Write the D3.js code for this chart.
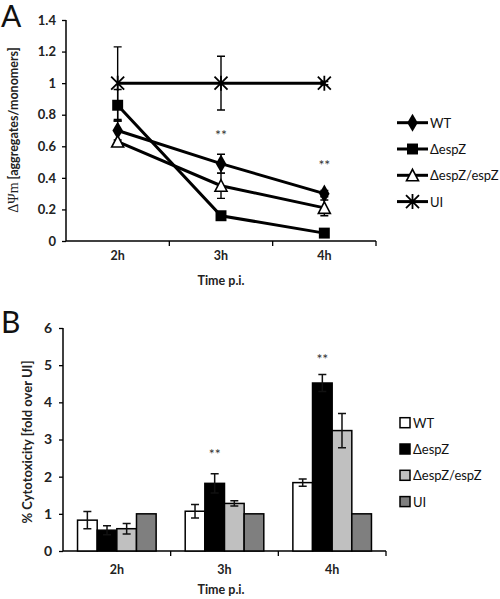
<!DOCTYPE html>
<html><head><meta charset="utf-8">
<script src="https://cdn.jsdelivr.net/npm/d3@7"></script>
<style>body{margin:0;background:#fff}svg{display:block}text{font-family:Lato,"Open Sans",sans-serif}</style>
</head><body>
<script>
// ---- data ----
const times = ["2h", "3h", "4h"];
const seriesNames = ["WT", "\u0394espZ", "\u0394espZ/espZ", "UI"];
// Panel A: ΔΨm
const aWT = [0.70, 0.49, 0.30];
const aWTerr = [0.06, 0.06, 0.02];
const aDel = [0.86, 0.16, 0.05];
const aDelErr = [0.10, 0.01, 0.01];
const aComp = [0.63, 0.35, 0.21];
const aCompErr = [0.0, 0.08, 0.05];
const aUI = [1, 1, 1];
const aUIerr = [0.23, 0.17, 0.01];
const aTicks = [0, 0.2, 0.4, 0.6, 0.8, 1, 1.2, 1.4];
const aStars = [null, 0.68, 0.49];
// Panel B: cytotoxicity
const bWT = [0.83, 1.07, 1.84];
const bWTerr = [0.23, 0.18, 0.10];
const bDel = [0.56, 1.82, 4.52];
const bDelErr = [0.12, 0.26, 0.23];
const bComp = [0.60, 1.28, 3.24];
const bCompErr = [0.14, 0.07, 0.46];
const bUI = [1, 1, 1];
const bUIerr = [0, 0, 0];
const bTicks = [0, 1, 2, 3, 4, 5, 6];
const bStars = [null, 2.64, 5.2];

const svg = d3.select("body").append("svg").attr("width", 500).attr("height", 599);

// ================= Panel A =================
const aSeries = [
  {name: seriesNames[0], v: aWT, e: aWTerr, sym: "diamond"},
  {name: seriesNames[1], v: aDel, e: aDelErr, sym: "square"},
  {name: seriesNames[2], v: aComp, e: aCompErr, sym: "triangle"},
  {name: seriesNames[3], v: aUI, e: aUIerr, sym: "star"}
];
const xA = d3.scaleBand().domain(times).range([66, 376]).padding(0);
const yA = d3.scaleLinear().domain([0, 1.4]).range([241, 20]);
const gA = svg.append("g");

function marker(g, type, x, y) {
  if (type === "diamond") {
    g.append("path").attr("d", d3.symbol(d3.symbolDiamond, 95)()).attr("transform", `translate(${x},${y})`).attr("fill", "#000");
  } else if (type === "square") {
    g.append("path").attr("d", d3.symbol(d3.symbolSquare, 120)()).attr("transform", `translate(${x},${y})`).attr("fill", "#000");
  } else if (type === "triangle") {
    const s = 6;
    g.append("path").attr("d", `M${x},${y - s}L${x + s},${y + s - 0.5}L${x - s},${y + s - 0.5}Z`).attr("fill", "#fff").attr("stroke", "#000").attr("stroke-width", 1.6);
  } else {
    const s = 6.5;
    g.append("path").attr("d", `M${x - s},${y - s}L${x + s},${y + s}M${x - s},${y + s}L${x + s},${y - s}M${x},${y - s - 1}L${x},${y + s + 1}`).attr("stroke", "#000").attr("stroke-width", 1.8).attr("fill", "none");
  }
}

// axes A
const yAxA = d3.axisLeft(yA).tickValues(aTicks).tickSize(4).tickPadding(6).tickFormat(d => String(+d.toFixed(1)));
gA.append("g").attr("transform", "translate(66,0)").call(yAxA)
  .call(g => { g.select(".domain").attr("stroke-width", 1.5).attr("d", "M0,20V241"); g.selectAll("line").attr("stroke-width", 1.3); })
  .selectAll("text").attr("font-size", 13).attr("font-weight", "bold").attr("fill", "#222");
const xAxA = d3.axisBottom(xA).tickSize(0).tickPadding(10);
gA.append("g").attr("transform", "translate(0,241)").call(xAxA)
  .call(g => g.select(".domain").attr("stroke-width", 1.5).attr("d", "M66,0H376"))
  .selectAll("text").attr("font-size", 12.5).attr("font-weight", "bold").attr("fill", "#222");
gA.selectAll(".xtickA").data(times).enter().append("line")
  .attr("x1", d => xA(d) + xA.bandwidth()).attr("x2", d => xA(d) + xA.bandwidth())
  .attr("y1", 241).attr("y2", 246).attr("stroke", "#000").attr("stroke-width", 1.3);

// lines
const lineA = d3.line().x((d, i) => xA(times[i]) + xA.bandwidth() / 2).y(d => yA(d));
aSeries.forEach(s => {
  gA.append("path").attr("d", lineA(s.v)).attr("fill", "none").attr("stroke", "#000").attr("stroke-width", 3);
});
// error bars
aSeries.forEach(s => {
  s.v.forEach((v, i) => {
    const e = s.e[i];
    if (!e) return;
    const cx = xA(times[i]) + xA.bandwidth() / 2;
    gA.append("path").attr("d", `M${cx},${yA(v + e)}V${yA(v - e)}M${cx - 4},${yA(v + e)}H${cx + 4}M${cx - 4},${yA(v - e)}H${cx + 4}`)
      .attr("stroke", "#000").attr("stroke-width", 1.4).attr("fill", "none");
  });
});
aSeries.forEach(s => {
  s.v.forEach((v, i) => marker(gA, s.sym, xA(times[i]) + xA.bandwidth() / 2, yA(v)));
});
aStars.forEach((v, i) => {
  if (v == null) return;
  gA.append("text").attr("x", xA(times[i]) + xA.bandwidth() / 2).attr("y", yA(v) + 6).attr("text-anchor", "middle")
    .attr("font-size", 14).attr("fill", "#333").text("**");
});
// labels A
gA.append("text").attr("transform", "translate(18,130) rotate(-90)").attr("text-anchor", "middle")
  .attr("font-size", 12.5).attr("font-weight", "bold").attr("fill", "#222")
  .call(t => {
    t.append("tspan").attr("font-family", "'Liberation Serif',serif").attr("font-weight", "normal").attr("font-size", 14).text("\u0394\u03A8m");
    t.append("tspan").text(" [aggregates/monomers]");
  });
gA.append("text").attr("x", 221).attr("y", 285).attr("text-anchor", "middle").attr("font-size", 12.5).attr("font-weight", "bold").attr("fill", "#222").text("Time p.i.");
gA.append("text").attr("x", 1).attr("y", 27).attr("font-size", 30).attr("font-family", "'Liberation Sans',Arial,sans-serif").attr("fill", "#111").text("A");
// legend A
const legA = gA.append("g");
aSeries.forEach((s, i) => {
  const y = 122.7 + i * 26.3;
  legA.append("line").attr("x1", 397).attr("x2", 428).attr("y1", y).attr("y2", y).attr("stroke", "#000").attr("stroke-width", 3);
  marker(legA, s.sym, 412.5, y);
  legA.append("text").attr("x", 430).attr("y", y + 5).attr("font-size", 13).attr("fill", "#111").text(s.name);
});

// ================= Panel B =================
const bSeries = [
  {name: seriesNames[0], v: bWT, e: bWTerr, fill: "#ffffff"},
  {name: seriesNames[1], v: bDel, e: bDelErr, fill: "#000000"},
  {name: seriesNames[2], v: bComp, e: bCompErr, fill: "#c0c0c0"},
  {name: seriesNames[3], v: bUI, e: bUIerr, fill: "#7f7f7f"}
];
const xB = d3.scaleBand().domain(times).range([63, 386]).padding(0);
const xBs = d3.scaleBand().domain(seriesNames).range([xB.bandwidth() * 0.135, xB.bandwidth() * 0.865]).padding(0);
const yB = d3.scaleLinear().domain([0, 6]).range([551, 328]);
const gB = svg.append("g");

const yAxB = d3.axisLeft(yB).tickValues(bTicks).tickSize(4).tickPadding(7).tickFormat(d3.format("d"));
gB.append("g").attr("transform", "translate(63,0)").call(yAxB)
  .call(g => { g.select(".domain").attr("stroke-width", 1.5).attr("d", "M0,328V551"); g.selectAll("line").attr("stroke-width", 1.3); })
  .selectAll("text").attr("font-size", 14).attr("font-weight", "bold").attr("fill", "#222");
gB.append("g").attr("transform", "translate(0,551)").call(d3.axisBottom(xB).tickSize(0).tickPadding(14))
  .call(g => g.select(".domain").attr("stroke-width", 1.5).attr("d", "M63,0H386"))
  .selectAll("text").attr("font-size", 12.5).attr("font-weight", "bold").attr("fill", "#222");
gB.selectAll(".xtickB").data(times).enter().append("line")
  .attr("x1", d => xB(d) + xB.bandwidth()).attr("x2", d => xB(d) + xB.bandwidth())
  .attr("y1", 551).attr("y2", 556).attr("stroke", "#000").attr("stroke-width", 1.3);

bSeries.forEach(s => {
  s.v.forEach((v, i) => {
    const x0 = xB(times[i]) + xBs(s.name);
    gB.append("rect").attr("x", x0).attr("y", yB(v)).attr("width", xBs.bandwidth()).attr("height", yB(0) - yB(v))
      .attr("fill", s.fill).attr("stroke", "#000").attr("stroke-width", 1.5);
  });
});
bSeries.forEach(s => {
  s.v.forEach((v, i) => {
    const e = s.e[i];
    if (!e) return;
    const cx = xB(times[i]) + xBs(s.name) + xBs.bandwidth() / 2;
    gB.append("path").attr("d", `M${cx},${yB(v + e)}V${yB(v - e)}M${cx - 4},${yB(v + e)}H${cx + 4}M${cx - 4},${yB(v - e)}H${cx + 4}`)
      .attr("stroke", "#111").attr("stroke-width", 1.5).attr("fill", "none");
  });
});
bStars.forEach((v, i) => {
  if (v == null) return;
  const cx = xB(times[i]) + xBs(seriesNames[1]) + xBs.bandwidth() / 2;
  gB.append("text").attr("x", cx).attr("y", yB(v) + 6).attr("text-anchor", "middle").attr("font-size", 14).attr("fill", "#333").text("**");
});
gB.append("text").attr("transform", "translate(32,442) rotate(-90)").attr("text-anchor", "middle")
  .attr("font-size", 13).attr("font-weight", "bold").attr("fill", "#222").text("% Cytotoxicity [fold over UI]");
gB.append("text").attr("x", 221).attr("y", 594).attr("text-anchor", "middle").attr("font-size", 12.5).attr("font-weight", "bold").attr("fill", "#222").text("Time p.i.");
gB.append("text").attr("x", 1).attr("y", 333).attr("font-size", 30).attr("font-family", "'Liberation Sans',Arial,sans-serif").attr("fill", "#111").text("B");
const legB = gB.append("g");
bSeries.forEach((s, i) => {
  const y = 422.7 + i * 26.3;
  legB.append("rect").attr("x", 400).attr("y", y - 5).attr("width", 10).attr("height", 10).attr("fill", s.fill).attr("stroke", "#000").attr("stroke-width", 1.5);
  legB.append("text").attr("x", 413).attr("y", y + 5).attr("font-size", 13).attr("fill", "#111").text(s.name);
});
</script>
</body></html>
